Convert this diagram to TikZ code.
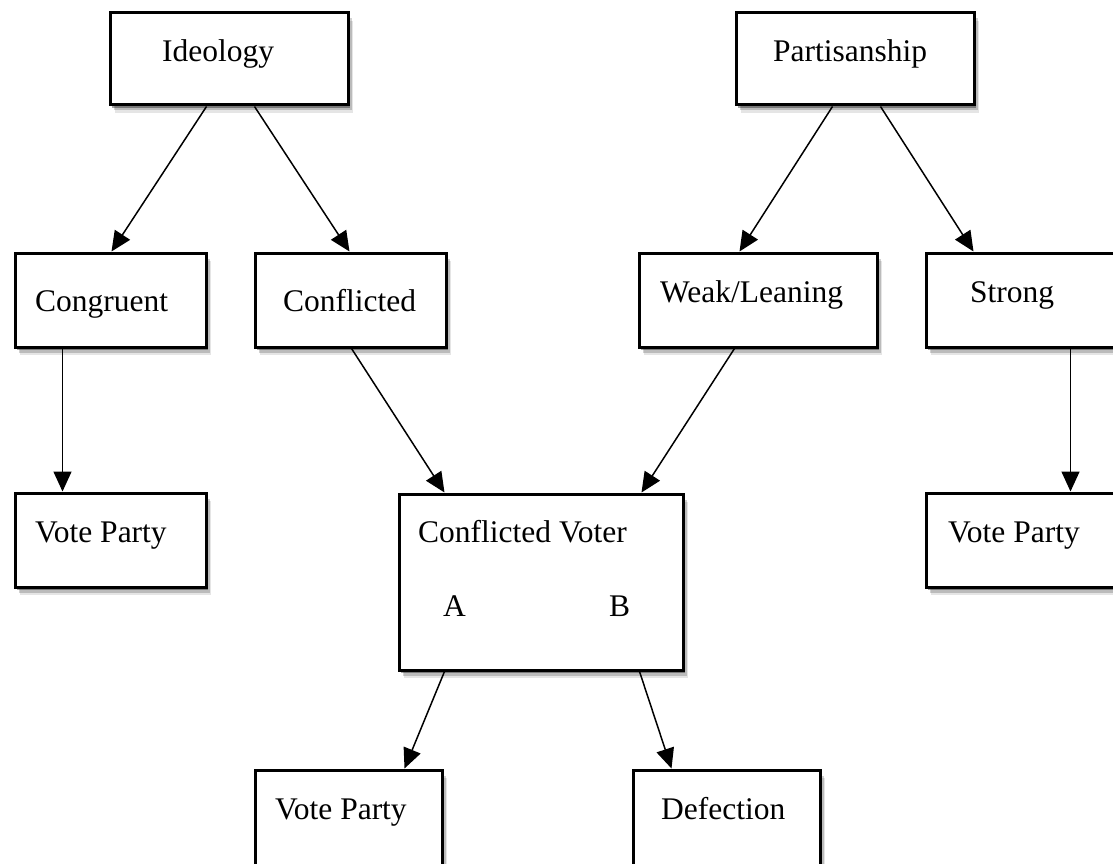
\documentclass[tikz,border=0pt]{standalone}
\usepackage{fontspec}
\setmainfont{Liberation Serif}
\usetikzlibrary{arrows.meta,calc,shadows}
\tikzset{
  box/.style={draw, line width=3pt, fill=white, inner sep=0pt, anchor=north west,
    drop shadow={shadow xshift=5pt,shadow yshift=-8pt,opacity=0.10,fill=black},
    drop shadow={shadow xshift=3.5pt,shadow yshift=-5.5pt,opacity=0.18,fill=black},
    drop shadow={shadow xshift=2pt,shadow yshift=-3pt,opacity=0.35,fill=black}},
  lbl/.style={anchor=base west, inner sep=0pt, font=\fontsize{31.5}{36}\selectfont},
  arr/.style={line width=1.5pt, -{Triangle[length=20pt,width=18pt]}}
}
\newcommand{\mybox}[5]{% name, x1, y1, x2, y2 (outer edges)
  \node[box, minimum width={#4-#2-3pt}, minimum height={#5-#3-3pt}] (#1) at ({#2+1.5},{#3+1.5}) {};}
\begin{document}
\begin{tikzpicture}[x=1pt,y=-1pt]
\useasboundingbox[fill=white] (0,0) rectangle (1113,864);
\mybox{ideo}{107}{10}{348}{105}
\mybox{part}{733}{10}{974}{105}
\mybox{cong}{12}{250}{206}{347}
\mybox{conf}{252}{250}{446}{347}
\mybox{weak}{636}{250}{877}{347}
\mybox{strong}{923}{250}{1117}{347}
\mybox{vpl}{12}{490}{206}{587}
\mybox{cv}{396}{491}{683}{670}
\mybox{vpr}{923}{490}{1117}{587}
\mybox{vpb}{252}{767}{442}{872}
\mybox{def}{630}{767}{820}{872}

\node[lbl] (tideo) at (162,62) {Ideology};
\node[lbl] (tpart) at (773,62) {Partisanship};
\node[lbl] (tcong) at (35,311) {Congruent};
\node[lbl] (tconf) at (283,311) {Conflicted};
\node[lbl] (tweak) at (660,302) {Weak/Leaning};
\node[lbl] (tstrong) at (970,302) {Strong};
\node[lbl] (tvpl) at (35,542) {Vote Party};
\node[lbl] (tcv) at (418,542) {Conflicted Voter};
\node[lbl] (ta) at (443,616) {A};
\node[lbl] (tb) at (609,616) {B};
\node[lbl] (tvpr) at (948,542) {Vote Party};
\node[lbl] (tvpb) at (275,819) {Vote Party};
\node[lbl] (tdef) at (661,819) {Defection};

\draw[arr] ($(ideo.south west)+(98,0)$) -- ($(cong.north west)+(98,0)$);
\draw[arr] ($(ideo.south west)+(146,0)$) -- ($(conf.north west)+(96,0)$);
\draw[arr] ($(part.south west)+(98,0)$) -- ($(weak.north west)+(102,0)$);
\draw[arr] ($(part.south west)+(146,0)$) -- ($(strong.north west)+(49,0)$);
\draw[arr] ($(cong.south west)+(49,0)$) -- ($(vpl.north west)+(49,0)$);
\draw[arr] ($(strong.south west)+(146,0)$) -- ($(vpr.north west)+(146,0)$);
\draw[arr] ($(conf.south west)+(98,0)$) -- ($(cv.north west)+(47,0)$);
\draw[arr] ($(weak.south west)+(97,0)$) -- ($(cv.north west)+(244,0)$);
\draw[arr] ($(cv.south west)+(47,0)$) -- ($(vpb.north west)+(151,0)$);
\draw[arr] ($(cv.south west)+(242,0)$) -- ($(def.north west)+(40,0)$);
\end{tikzpicture}
\end{document}
